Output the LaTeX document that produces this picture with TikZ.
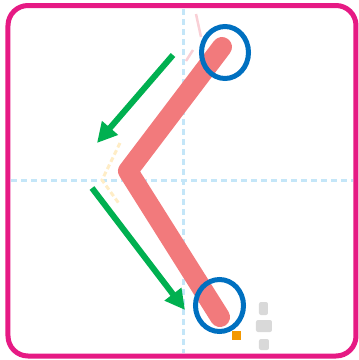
\documentclass[tikz,border=0pt]{standalone}
\usetikzlibrary{arrows.meta,shapes.geometric}
\definecolor{frame}{HTML}{E61A84}
\definecolor{stroke}{HTML}{F27A7C}
\definecolor{ring}{HTML}{0070C0}
\definecolor{arrowgreen}{HTML}{00B050}
\definecolor{guide}{HTML}{C4E6F8}
\definecolor{faintyellow}{HTML}{FFEDC6}
\definecolor{faintpink}{HTML}{F9D0D6}
\definecolor{dotorange}{HTML}{F39800}
\tikzset{
  frameline/.style={draw=frame, line width=5pt, rounded corners=20pt},
  guideline/.style={draw=guide, line width=3pt, dash pattern=on 6pt off 4pt},
  redstroke/.style={draw=stroke, line width=20pt, line cap=round, line join=round},
  ringline/.style={draw=ring, line width=5pt, ellipse, inner sep=0pt},
  greenarrow/.style={draw=arrowgreen, line width=6pt, -{Triangle[length=20pt,width=20pt]}},
  faintline/.style={draw=faintyellow, line width=3pt, dash pattern=on 5pt off 3pt},
  graymark/.style={fill=gray!30, draw=none, rounded corners=2pt}
}
\begin{document}
\begin{tikzpicture}[x=1pt,y=-1pt]
\useasboundingbox (0,0) rectangle (359,360);
% frame
\draw[frameline] (8,5.5) rectangle (356,356);
% guides
\coordinate (gvt) at (184,9);
\coordinate (gvb) at (184,353);
\coordinate (ghl) at (11,180);
\coordinate (ghr) at (353,180);
\draw[guideline] (gvt) -- (gvb);
\draw[guideline] (ghl) -- (ghr);
% faint traces
\coordinate (fy1) at (120,143);
\coordinate (fy2) at (102,180);
\coordinate (fy3) at (120,205);
\draw[faintline] (fy1) -- (fy2) -- (fy3);
\coordinate (fp1) at (196,14);
\coordinate (fp2) at (201,37);
\coordinate (fp3) at (193,50);
\coordinate (fp4) at (186,61);
\draw[draw=faintpink, line width=2.5pt] (fp1) -- (fp2);
\draw[draw=faintpink, line width=2.5pt] (fp3) -- (fp4);
% red stroke
\coordinate (top) at (222,47);
\coordinate (vertex) at (128,171);
\coordinate (bottom) at (220,317);
\draw[redstroke] (top) -- (vertex) -- (bottom);
% rings
\node[ringline, minimum width=47pt, minimum height=52pt] (ringtop) at (225,52.5) {};
\node[ringline, minimum width=48pt, minimum height=52pt] (ringbottom) at (219.5,305.5) {};
% green arrows
\coordinate (a1s) at (173,55);
\coordinate (a1e) at (97,143);
\coordinate (a2s) at (92,188);
\coordinate (a2e) at (185,310);
\draw[greenarrow] (a1s) -- (a1e);
\draw[greenarrow] (a2s) -- (a2e);
% orange dot
\node[fill=dotorange, minimum size=9pt, inner sep=0pt] (dot) at (237,335) {};
% gray marks
\fill[graymark] (259,302) rectangle (268,315);
\fill[graymark] (256,320) rectangle (272,332);
\fill[graymark] (259,339) rectangle (269,350);
\end{tikzpicture}
\end{document}
